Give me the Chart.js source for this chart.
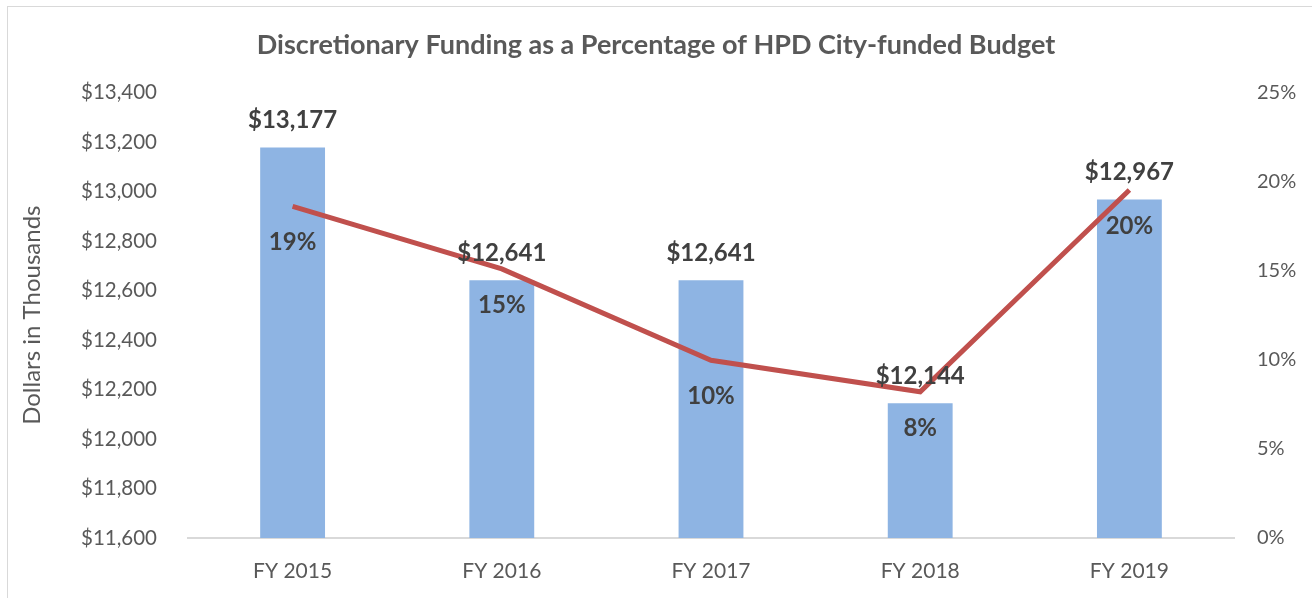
<!DOCTYPE html>
<html>
<head>
<meta charset="utf-8">
<script src="https://cdn.jsdelivr.net/npm/chart.js@4"></script>
<style>
  body { margin: 0; background: #fff; }
  #wrap { width: 1312px; height: 598px; }
</style>
</head>
<body>
<div id="wrap"><canvas id="myChart" width="1312" height="598"></canvas></div>
<script>
// chart data
let years = ['FY 2015', 'FY 2016', 'FY 2017', 'FY 2018', 'FY 2019'];
let funding = [13177, 12641, 12641, 12144, 12967];      // dollars in thousands
let share = [0.186, 0.151, 0.0997, 0.082, 0.1952];      // share of city-funded budget
let dollarTicks = [11600, 13400, 200];
let percentTicks = [0, 0.25, 0.05];

let money = function(v) {
    return '$' + Number(v).toLocaleString('en-US');
};
let pct = function(v) {
    return Math.round(v * 100) + '%';
};

let fontName = 'Lato, "Open Sans", sans-serif';
let grey = '#595959';

// border around the whole chart
let framePlugin = {
    id: 'frame',
    beforeDraw(chart) {
        let c = chart.ctx;
        c.save();
        c.fillStyle = '#fff';
        c.fillRect(0, 0, chart.width, chart.height);
        c.strokeStyle = '#d9d9d9';
        c.lineWidth = 1;
        c.strokeRect(7.5, 6.5, 1400, 700);
        c.restore();
    }
};

// value labels: dollars over the bars, percentages under the line points
let labelPlugin = {
    id: 'labels',
    afterDatasetsDraw(chart) {
        let c = chart.ctx;
        c.save();
        c.font = 'bold 24px ' + fontName;
        c.fillStyle = '#404040';
        c.textAlign = 'center';
        c.textBaseline = 'middle';

        let bars = chart.getDatasetMeta(1).data;
        bars.forEach(function(b, i) {
            c.fillText(money(funding[i]), b.x, b.y - 27);
        });

        let pts = chart.getDatasetMeta(0).data;
        pts.forEach(function(p, i) {
            c.fillText(pct(share[i]), p.x, p.y + 36);
        });
        c.restore();
    }
};

let ctx = document.getElementById('myChart').getContext('2d');

let myChart = new Chart(ctx, {
    data: {
        labels: years,
        datasets: [{
            type: 'line',
            data: share,
            yAxisID: 'y1',
            borderColor: '#c0504d',
            borderWidth: 5,
            pointRadius: 0,
            tension: 0,
            order: 0
        }, {
            type: 'bar',
            data: funding,
            yAxisID: 'y',
            backgroundColor: '#8eb4e3',
            barPercentage: 0.62,
            categoryPercentage: 0.5,
            order: 1
        }]
    },
    plugins: [framePlugin, labelPlugin],
    options: {
        responsive: false,
        animation: false,
        layout: { padding: 0 },
        plugins: {
            legend: { display: false },
            tooltip: { enabled: false },
            title: {
                display: true,
                text: 'Discretionary Funding as a Percentage of HPD City-funded Budget',
                color: grey,
                font: { family: fontName, size: 27, weight: 'bold' },
                padding: { top: 29, bottom: 31 }
            }
        },
        scales: {
            x: {
                grid: { display: false },
                border: { color: '#d9d9d9', width: 2 },
                ticks: { color: grey, font: { family: fontName, size: 21 }, padding: 13 },
                afterFit: function(s) { s.height = 60; }
            },
            y: {
                position: 'left',
                min: dollarTicks[0],
                max: dollarTicks[1],
                grid: { display: false },
                border: { display: false },
                ticks: {
                    stepSize: dollarTicks[2],
                    color: grey,
                    font: { family: fontName, size: 20.5 },
                    padding: 23,
                    callback: money
                },
                title: {
                    display: true,
                    text: 'Dollars in Thousands',
                    color: grey,
                    font: { family: fontName, size: 24 },
                    padding: { top: 18, bottom: 0 }
                },
                afterFit: function(s) { s.width = 188; }
            },
            y1: {
                position: 'right',
                min: percentTicks[0],
                max: percentTicks[1],
                grid: { display: false },
                border: { display: false },
                ticks: {
                    stepSize: percentTicks[2],
                    color: grey,
                    font: { family: fontName, size: 20 },
                    padding: 15,
                    callback: pct
                },
                afterFit: function(s) { s.width = 78; }
            }
        }
    }
});
</script>
</body>
</html>
